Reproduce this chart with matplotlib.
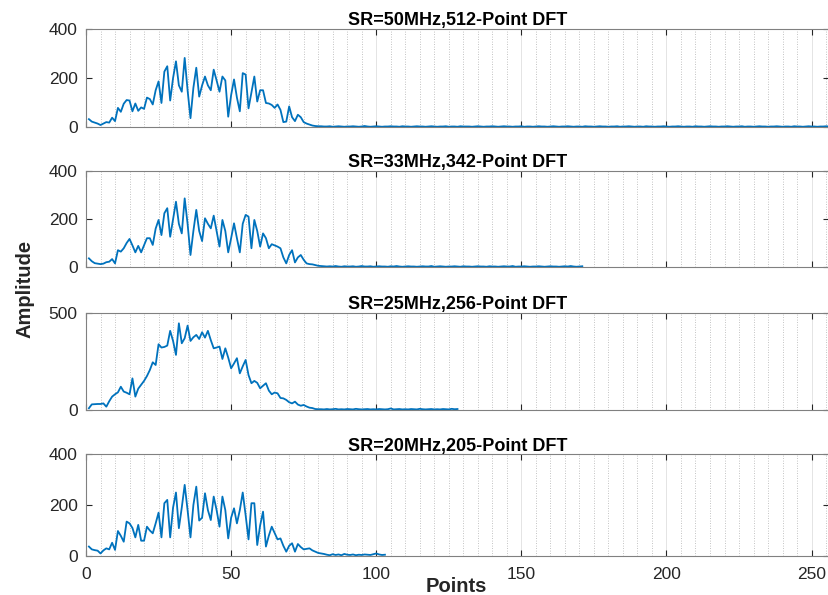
import numpy as np
import matplotlib.pyplot as plt
from matplotlib.ticker import MultipleLocator

plt.rcParams['font.family'] = ['Liberation Sans', 'DejaVu Sans']

# ---- data (amplitude per DFT point, starting at point 1) ----
titles = ["SR=50MHz,512-Point DFT", "SR=33MHz,342-Point DFT",
          "SR=25MHz,256-Point DFT", "SR=20MHz,205-Point DFT"]

amp_50 = [
    32, 22, 18, 14, 8, 14, 20, 18, 38, 24, 78, 62, 95, 110, 108, 64, 96, 66, 80, 74,
    120, 114, 92, 150, 186, 98, 226, 248, 108, 200, 268, 170, 144, 282, 150, 36, 160, 242, 124, 170,
    206, 170, 150, 234, 190, 144, 206, 190, 42, 130, 194, 120, 64, 220, 214, 76, 140, 206, 104, 150,
    150, 98, 96, 90, 78, 92, 70, 20, 22, 84, 40, 24, 50, 40, 20, 14, 10, 6, 4, 3,
    # tail 81..256
    3, 2, 2, 3, 1, 2, 3, 2, 1, 2, 2, 3, 2, 1, 2, 4, 2, 1, 2, 3,
    2, 1, 2, 2, 3, 2, 2, 1, 3, 2, 2, 1, 2, 3, 2, 2, 1, 2, 3, 2,
    1, 2, 2, 3, 1, 2, 2, 1, 3, 2, 2, 2, 1, 2, 3, 2, 1, 2, 2, 3,
    2, 1, 2, 3, 2, 2, 1, 2, 2, 3, 1, 2, 2, 1, 2, 3, 2, 2, 1, 2,
    3, 2, 1, 2, 2, 3, 2, 1, 2, 2, 1, 3, 2, 2, 1, 2, 3, 2, 2, 1,
    2, 2, 3, 1, 2, 2, 3, 2, 1, 2, 2, 1, 3, 2, 2, 1, 2, 2, 3, 2,
    1, 2, 2, 3, 2, 1, 2, 2, 1, 3, 2, 2, 1, 2, 3, 2, 2, 1, 2, 2,
    3, 2, 1, 2, 2, 3, 1, 2, 2, 1, 2, 3, 2, 2, 1, 2, 2, 3, 2, 1,
    2, 2, 1, 3, 2, 2, 1, 2, 3, 2, 2, 1, 2, 2, 3, 2,
]

amp_33 = [
    36, 24, 16, 14, 12, 14, 20, 22, 33, 15, 70, 64, 78, 100, 117, 90, 61, 88, 61, 90,
    120, 120, 92, 160, 196, 133, 224, 245, 126, 200, 272, 180, 140, 286, 180, 50, 150, 238, 150, 108,
    203, 180, 161, 214, 150, 85, 196, 150, 61, 120, 182, 120, 61, 180, 217, 210, 78, 196, 150, 85,
    140, 120, 78, 95, 90, 85, 78, 40, 15, 50, 70, 19, 40, 50, 30, 15, 12, 11, 8, 5,
    # tail 81..171
    4, 3, 2, 3, 2, 4, 2, 1, 3, 2, 2, 3, 1, 2, 4, 2, 2, 3, 1, 2,
    3, 2, 2, 1, 3, 2, 4, 2, 1, 2, 3, 2, 2, 1, 2, 3, 2, 2, 4, 1,
    2, 3, 2, 1, 2, 2, 3, 2, 1, 3, 2, 2, 1, 2, 3, 2, 2, 1, 3, 2,
    2, 1, 2, 3, 2, 2, 4, 1, 2, 2, 3, 2, 1, 2, 2, 3, 2, 1, 2, 3,
    2, 2, 1, 2, 3, 2, 4, 2, 1, 2, 3,
]

amp_25 = [
    9, 29, 30, 31, 31, 34, 17, 45, 69, 81, 91, 120, 95, 89, 81, 163, 69, 110, 130, 150,
    175, 206, 246, 232, 339, 322, 325, 332, 408, 356, 284, 447, 344, 370, 435, 356, 375, 387, 366, 401,
    373, 408, 360, 318, 322, 327, 263, 318, 270, 215, 240, 267, 189, 225, 258, 180, 138, 150, 140, 112,
    125, 138, 100, 81, 90, 86, 62, 60, 52, 40, 34, 43, 28, 22, 26, 18, 12, 10, 5, 4,
    # tail 81..128
    4, 3, 5, 3, 4, 6, 3, 4, 3, 5, 4, 3, 6, 4, 3, 4, 5, 3, 4, 3,
    5, 4, 3, 4, 8, 3, 4, 5, 3, 4, 3, 5, 4, 3, 6, 4, 3, 4, 5, 3,
    4, 3, 5, 4, 3, 6, 4, 5,
]

amp_20 = [
    37, 26, 23, 21, 10, 22, 30, 26, 52, 24, 98, 79, 56, 135, 128, 110, 73, 122, 60, 60,
    115, 100, 89, 128, 170, 73, 207, 220, 73, 190, 249, 109, 190, 279, 180, 73, 200, 272, 139, 150,
    246, 180, 141, 233, 180, 115, 233, 180, 69, 150, 187, 128, 180, 249, 160, 65, 207, 207, 43, 120,
    174, 37, 80, 115, 90, 65, 69, 40, 17, 40, 50, 17, 47, 35, 26, 28, 30, 22, 17, 12,
    10, 8,
    # tail 83..103
    5, 3, 7, 4, 6, 3, 8, 5, 4, 6, 3, 5, 4, 6, 5, 4, 7, 10, 6, 4, 5,
]

series = [amp_50, amp_33, amp_25, amp_20]
y_limits = [400, 400, 500, 400]
y_ticks = [[0, 200, 400], [0, 200, 400], [0, 500], [0, 200, 400]]

W, H = 829, 595
boxes = [(29, 127), (171, 267), (313, 410), (454, 556)]
left_px = 86

line_color = "#0072BD"
axis_color = "#262626"

fig = plt.figure(figsize=(W / 100, H / 100), dpi=100)

for i, (top, bottom) in enumerate(boxes):
    ax = fig.add_axes([left_px / W, 1 - bottom / H, (W - left_px) / W, (bottom - top) / H])
    vals = series[i]
    x = np.arange(1, len(vals) + 1)
    ax.plot(x, vals, color=line_color, lw=1.3)
    ax.set_xlim(0, 256)
    ax.set_ylim(0, y_limits[i])
    ax.set_yticks(y_ticks[i])
    ax.xaxis.set_major_locator(MultipleLocator(50))
    ax.xaxis.set_minor_locator(MultipleLocator(5))
    ax.grid(True, which="minor", axis="x", color="#b0b0b0", ls=(0, (1, 2)), lw=0.6)
    ax.grid(True, which="major", axis="x", color="#e4e4e4", ls="-", lw=0.7)
    ax.tick_params(which="major", direction="in", length=4, width=0.8,
                   top=True, right=True, colors=axis_color, labelsize=12.5,
                   labelcolor=axis_color)
    ax.tick_params(which="minor", length=0)
    ax.tick_params(axis="x", pad=8)
    ax.tick_params(axis="y", pad=6)
    for s in ax.spines.values():
        s.set_color("#808080")
        s.set_linewidth(0.8)
    if i < 3:
        ax.set_xticklabels([])
    ax.set_title(titles[i], fontsize=13, fontweight="bold", pad=2, color="black")

fig.text(25 / W, 1 - 289 / H, "Amplitude", rotation=90, ha="center", va="center",
         fontsize=14.5, fontweight="bold", color=axis_color)
fig.text(456 / W, 1 - 587 / H, "Points", ha="center", va="center",
         fontsize=14.5, fontweight="bold", color=axis_color)

fig.savefig("out.png", dpi=100)
